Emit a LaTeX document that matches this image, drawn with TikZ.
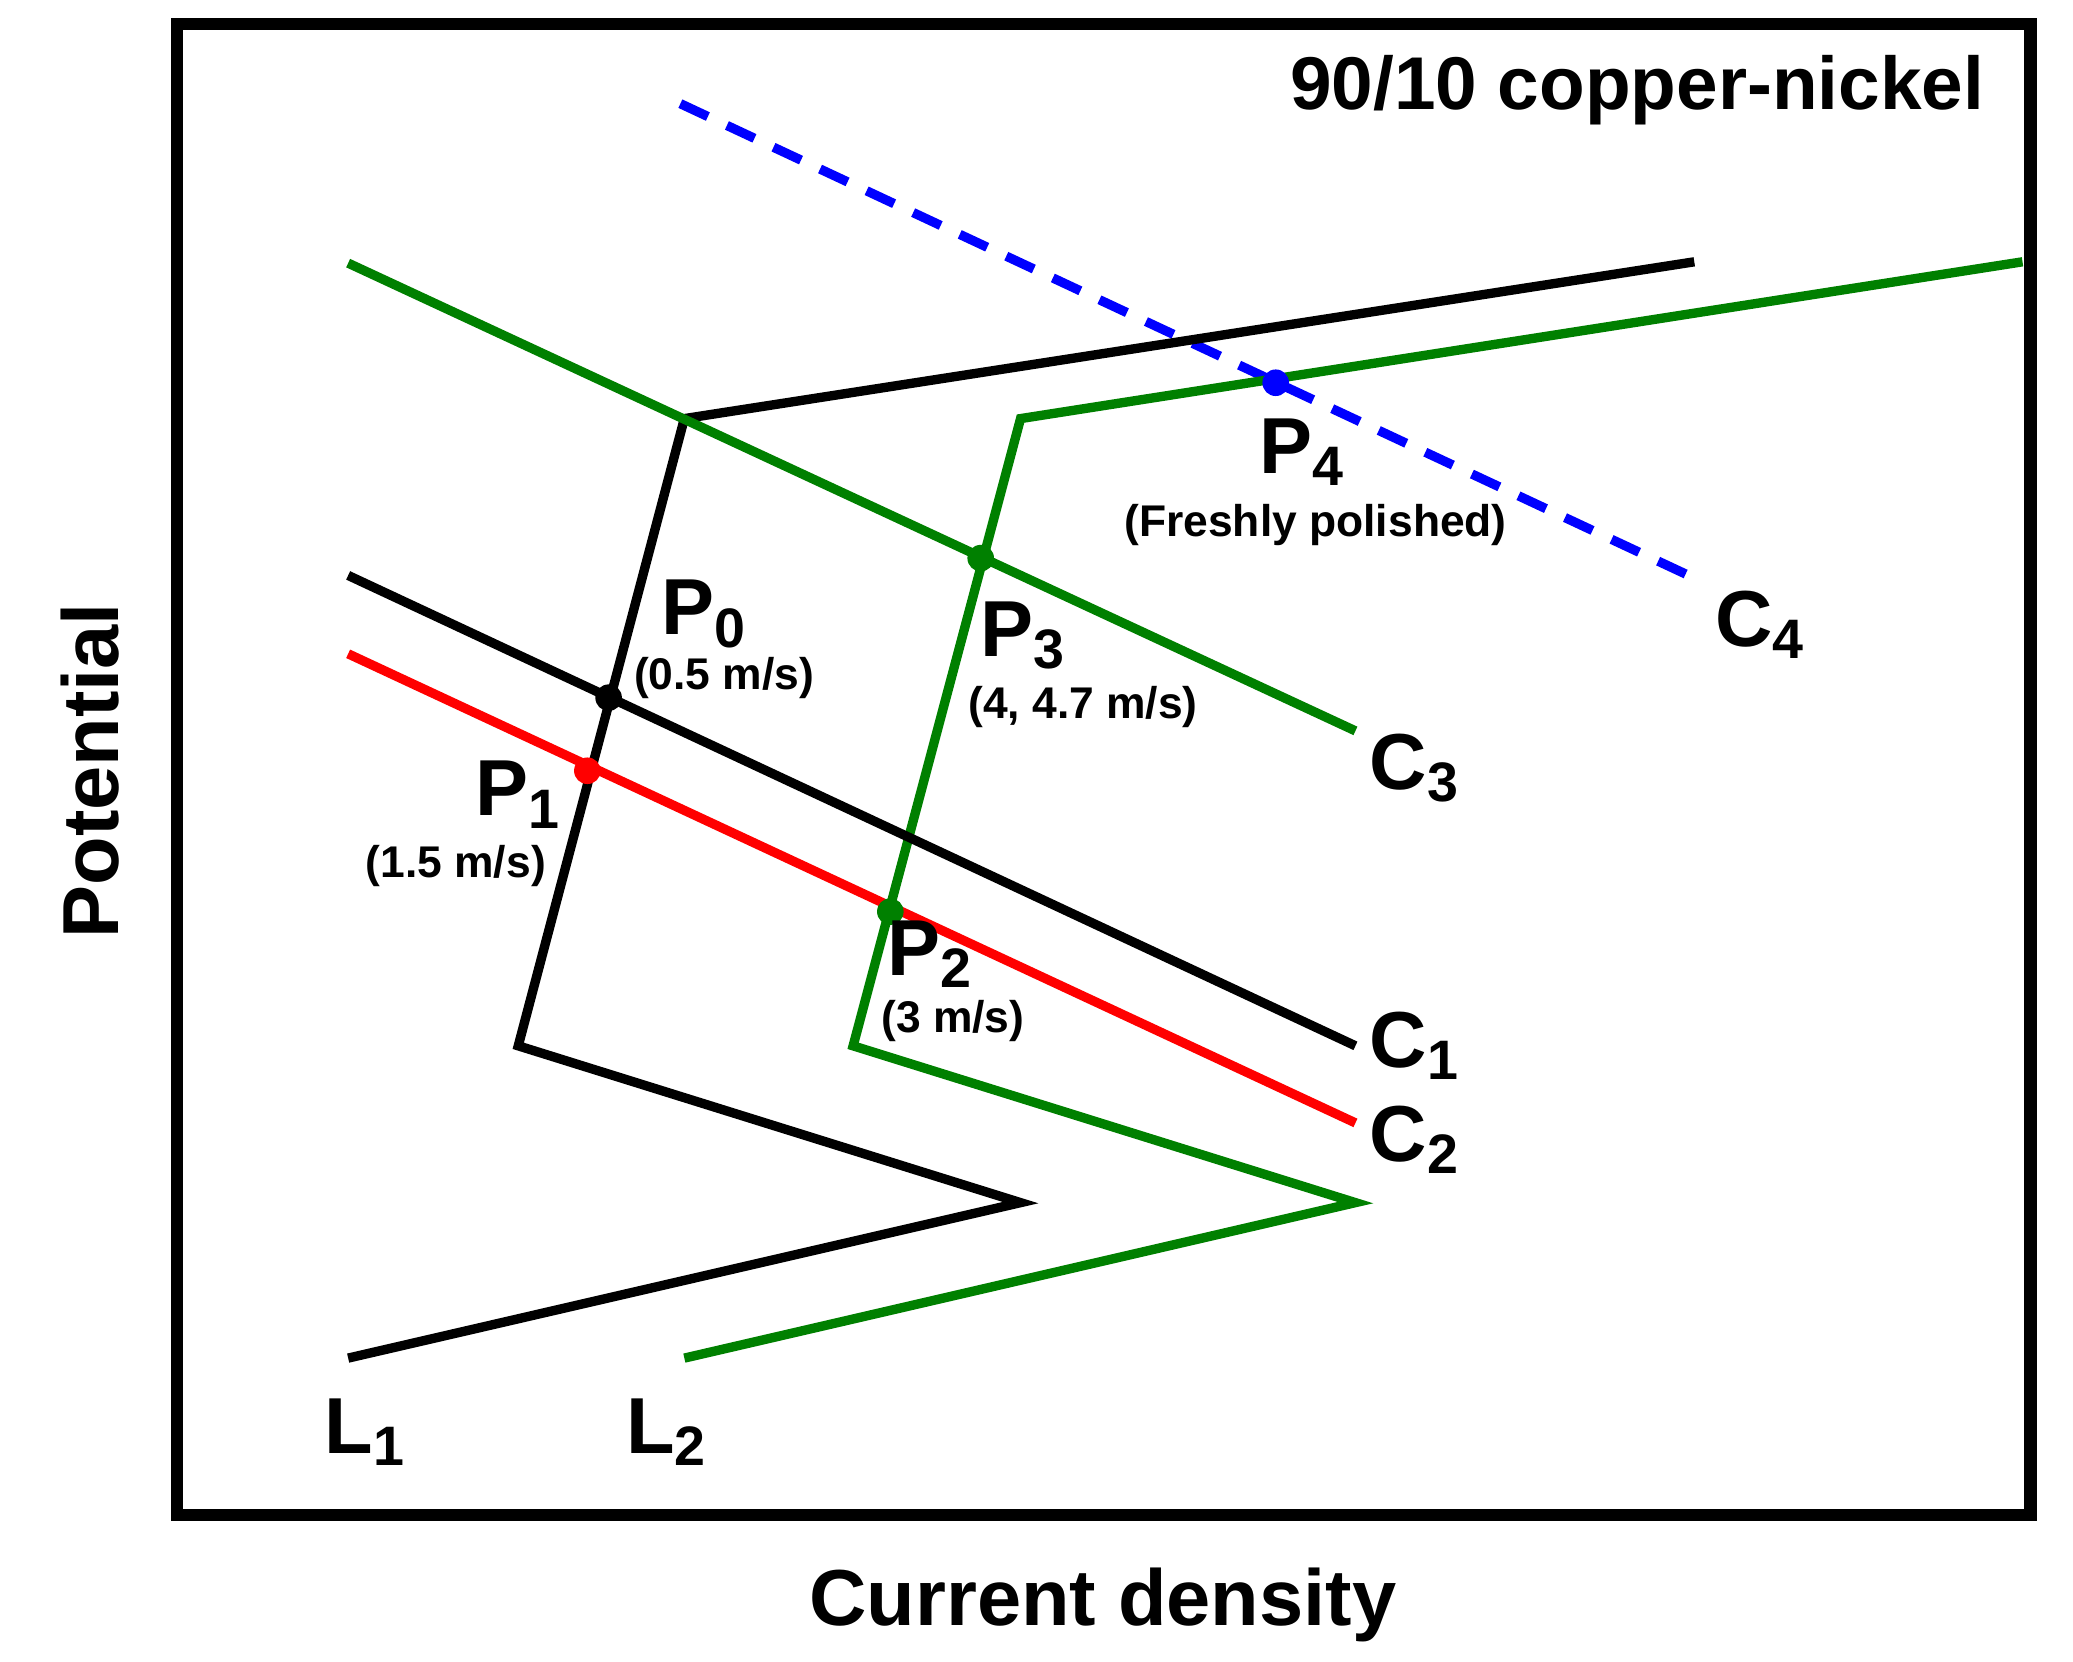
\documentclass[tikz,border=0pt]{standalone}
\usepackage{fontspec}
\setmainfont{Liberation Sans}
\begin{document}
\begin{tikzpicture}[x=0.01cm,y=-0.01cm,
  ln/.style={line width=2pt},
  big/.style={font=\bfseries\fontsize{17}{19}\selectfont},
  sm/.style={font=\bfseries\fontsize{9.5}{11}\selectfont},
  dot/.style={circle,inner sep=0pt,minimum size=0.2cm}]
\useasboundingbox (0,0) rectangle (1560,1250);
\draw[line width=2.6pt] (133,18) rectangle (1528,1140);
\node[big,font=\bfseries\fontsize{16}{18}\selectfont] (title) at (1232,68) {90/10 copper-nickel};
% blue dashed C4
\coordinate (c4a) at (512,78); \coordinate (c4b) at (1275,435);
\draw[ln,blue,dash pattern=on 6.5pt off 4.5pt] (c4a) -- (c4b);
% black L1
\coordinate (l1a) at (262,1022); \coordinate (l1b) at (768,905); \coordinate (l1c) at (390,787);
\coordinate (l1d) at (515,315); \coordinate (l1e) at (1275,197);
\draw[ln] (l1a) -- (l1b) -- (l1c) -- (l1d) -- (l1e);
% green L2
\coordinate (l2a) at (515,1022); \coordinate (l2b) at (1020,905); \coordinate (l2c) at (642,787);
\coordinate (l2d) at (768,315); \coordinate (l2e) at (1522,197);
\draw[ln,green!50!black] (l2a) -- (l2b) -- (l2c) -- (l2d) -- (l2e);
% C3
\coordinate (c3a) at (262,198); \coordinate (c3b) at (1020,550);
\draw[ln,green!50!black] (c3a) -- (c3b);
% C1
\coordinate (c1a) at (262,433); \coordinate (c1b) at (1020,787);
\draw[ln] (c1a) -- (c1b);
% C2
\coordinate (c2a) at (262,492); \coordinate (c2b) at (1020,845);
\draw[ln,red] (c2a) -- (c2b);
% dots
\node[dot,fill=blue] (p4) at (960,288) {};
\node[dot,fill=green!50!black] (p3) at (738,420) {};
\node[dot,fill=black] (p0) at (458,525) {};
\node[dot,fill=red] (p1) at (442,580) {};
\node[dot,fill=green!50!black] (p2) at (670,686) {};
% labels
\node[big] (lp0) at (530,462) {P$_{\mathbf 0}$};
\node[sm] (sp0) at (545,510) {(0.5 m/s)};
\node[big] (lp1) at (390,598) {P$_{\mathbf 1}$};
\node[sm] (sp1) at (343,652) {(1.5 m/s)};
\node[big] (lp2) at (700,718) {P$_{\mathbf 2}$};
\node[sm] (sp2) at (717,768) {(3 m/s)};
\node[big] (lp3) at (770,478) {P$_{\mathbf 3}$};
\node[sm] (sp3) at (815,532) {(4, 4.7 m/s)};
\node[big] (lp4) at (980,340) {P$_{\mathbf 4}$};
\node[sm] (sp4) at (990,395) {(Freshly polished)};
\node[big] (lc4) at (1325,470) {C$_{\mathbf 4}$};
\node[big] (lc3) at (1065,578) {C$_{\mathbf 3}$};
\node[big] (lc1) at (1065,787) {C$_{\mathbf 1}$};
\node[big] (lc2) at (1065,858) {C$_{\mathbf 2}$};
\node[big] (ll1) at (275,1078) {L$_{\mathbf 1}$};
\node[big] (ll2) at (502,1078) {L$_{\mathbf 2}$};
\node[big,rotate=90] (pot) at (68,580) {Potential};
\node[big] (cd) at (830,1208) {Current density};
\end{tikzpicture}
\end{document}
